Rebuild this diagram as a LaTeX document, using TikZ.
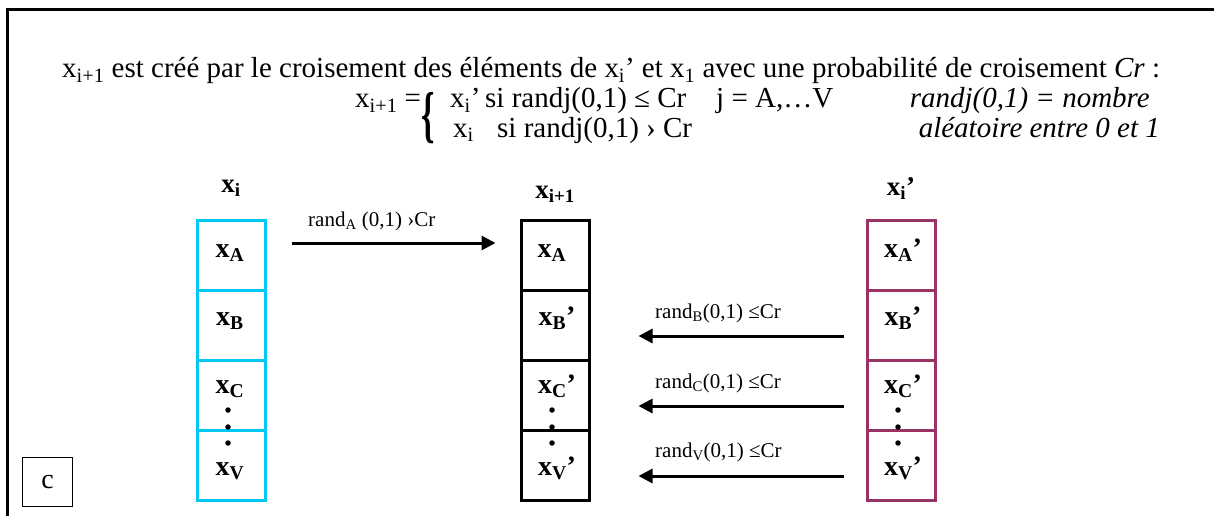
\documentclass[tikz,border=0pt]{standalone}
\usepackage{fontspec}
\setmainfont{Liberation Serif}
\usetikzlibrary{arrows.meta,calc}
\definecolor{cyanb}{RGB}{0,200,245}
\definecolor{plum}{RGB}{153,51,102}
\begin{document}
\begin{tikzpicture}[x=1pt,y=-1pt,
  cell/.style={draw, line width=3pt, minimum width=68pt, minimum height=70pt, inner sep=0pt},
  hd/.style={font=\fontsize{29}{34}\selectfont, inner sep=0pt, text height=20pt, text depth=6pt},
  ttl/.style={font=\fontsize{27}{32}\selectfont\bfseries, inner sep=0pt, anchor=base},
  lab/.style={font=\fontsize{28}{32}\selectfont\bfseries, inner sep=0pt, anchor=base},
  arl/.style={font=\fontsize{21}{25}\selectfont, anchor=base west, inner sep=0pt},
  arr/.style={line width=3pt, -{Triangle[length=14pt,width=14pt]}},
  dot/.style={circle, fill=black, inner sep=0pt, minimum size=5.5pt}]
\useasboundingbox (0,0) rectangle (1214,516);
% frame
\draw[line width=3pt] (7,516) -- (7,10) -- (1214,10);
% header
\node[hd, anchor=base west] (t1) at (62,78) {x\textsubscript{i+1} est créé par le croisement des éléments de x\textsubscript{i}’ et x\textsubscript{1} avec une probabilité de croisement \textit{Cr} :};
\node[hd, anchor=base west] (t2a) at (355,108) {x\textsubscript{i+1} =};
\node[anchor=center, inner sep=0pt, font=\fontsize{62}{62}\selectfont\bfseries, xscale=0.55, transform shape] (br) at (428,118) {\{};
\node[hd, anchor=base west] (t2b) at (450,108) {x\textsubscript{i}’};
\node[hd, anchor=base west] (t2c) at (485,108) {si randj(0,1) ≤ Cr};
\node[hd, anchor=base west] (t2d) at (716,108) {j = A,…V};
\node[hd, anchor=base east] (t2e) at (1150,108) {\textit{randj(0,1) = nombre}};
\node[hd, anchor=base west] (t3b) at (453,137) {x\textsubscript{i}};
\node[hd, anchor=base west] (t3c) at (497,137) {si randj(0,1) › Cr};
\node[hd, anchor=base east] (t3e) at (1160,137) {\textit{aléatoire entre 0 et 1}};
% headings
\node[ttl] (hl) at (231,192) {x\textsubscript{i}};
\node[ttl] (hm) at (555,198) {x\textsubscript{i+1}};
\node[ttl] (hr) at (901,195) {x\textsubscript{i}’};
% columns
\foreach \c/\x/\col in {l/231/cyanb, m/555/black, r/901/plum}{
  \node[cell, draw=\col] (\c A) at (\x,255) {};
  \node[cell, draw=\col] (\c B) at (\x,325) {};
  \node[cell, draw=\col] (\c C) at (\x,395) {};
  \node[cell, draw=\col] (\c V) at (\x,465) {};
  \node[dot] (\c d1) at (\x-3,410) {};
  \node[dot] (\c d2) at (\x-3,427) {};
  \node[dot] (\c d3) at (\x-3,443) {};
}
% labels in cells
\node[lab] (lAt) at ($(lA)+(-1,2)$) {x\textsubscript{A}};
\node[lab] (lBt) at ($(lB)+(-1,0)$) {x\textsubscript{B}};
\node[lab] (lCt) at ($(lC)+(-1,-2)$) {x\textsubscript{C}};
\node[lab] (lVt) at ($(lV)+(-1,10)$) {x\textsubscript{V}};
\node[lab] (mAt) at ($(mA)+(-3,2)$) {x\textsubscript{A}};
\node[lab] (mBt) at ($(mB)+(2,0)$) {x\textsubscript{B}’};
\node[lab] (mCt) at ($(mC)+(2,-2)$) {x\textsubscript{C}’};
\node[lab] (mVt) at ($(mV)+(2,10)$) {x\textsubscript{V}’};
\node[lab] (rAt) at ($(rA)+(2,2)$) {x\textsubscript{A}’};
\node[lab] (rBt) at ($(rB)+(2,0)$) {x\textsubscript{B}’};
\node[lab] (rCt) at ($(rC)+(2,-2)$) {x\textsubscript{C}’};
\node[lab] (rVt) at ($(rV)+(2,10)$) {x\textsubscript{V}’};
% arrows
\draw[arr, shorten <=25pt, shorten >=24pt] ([yshift=12pt]lA.east) -- ([yshift=12pt]mA.west);
\draw[arr, shorten <=22pt, shorten >=48pt] ([yshift=-11pt]rB.west) -- ([yshift=-11pt]mB.east);
\draw[arr, shorten <=22pt, shorten >=48pt] ([yshift=-11pt]rC.west) -- ([yshift=-11pt]mC.east);
\draw[arr, shorten <=22pt, shorten >=48pt] ([yshift=-11pt]rV.west) -- ([yshift=-11pt]mV.east);
\node[arl] (la) at (308,226) {rand\textsubscript{A} (0,1) ›Cr};
\node[arl] (lb) at (655,318) {rand\textsubscript{B}(0,1) ≤Cr};
\node[arl] (lc) at (655,388) {rand\textsubscript{C}(0,1) ≤Cr};
\node[arl] (lv) at (655,457) {rand\textsubscript{V}(0,1) ≤Cr};
% c box
\node[draw, line width=1.5pt, minimum width=50pt, minimum height=49pt, font=\fontsize{28}{32}\selectfont] (cb) at (47.5,482) {c};
\end{tikzpicture}
\end{document}
